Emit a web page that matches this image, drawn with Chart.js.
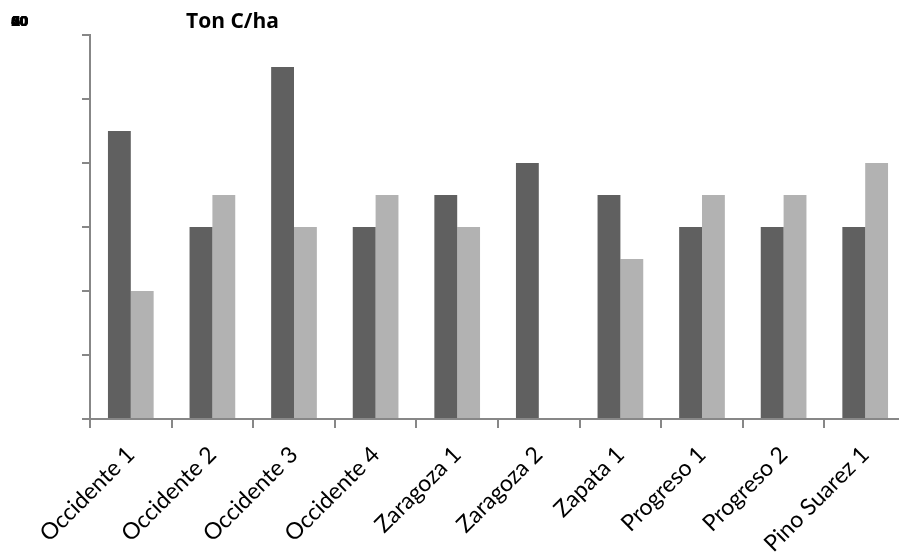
<!DOCTYPE html>
<html>
<head>
<meta charset="utf-8">
<script src="https://cdn.jsdelivr.net/npm/chart.js@4.4.1/dist/chart.umd.min.js"></script>
<style>
  html, body { margin: 0; padding: 0; background: #fff; overflow: hidden; }
  #wrap { position: relative; width: 910px; height: 557px; }
</style>
</head>
<body>
<div id="wrap"><canvas id="c"></canvas></div>
<script>
// Carbon stock per plot (Ton C/ha), two sampling series
const categories = ['Occidente 1', 'Occidente 2', 'Occidente 3', 'Occidente 4', 'Zaragoza 1',
                    'Zaragoza 2', 'Zapata 1', 'Progreso 1', 'Progreso 2', 'Pino Suarez 1'];
const seriesA = [45, 30, 55, 30, 35, 40, 35, 30, 30, 30];
const seriesB = [20, 35, 30, 35, 30, null, 25, 35, 35, 40];
const yTicks = [0, 10, 20, 30, 40, 50, 60];
const titleText = 'Ton C/ha';

const AXIS = '#878787';

// Title placed over the second category, and y tick labels piled up in the corner
const overlay = {
  id: 'overlay',
  afterDraw(chart) {
    const ctx = chart.ctx;
    ctx.save();
    ctx.fillStyle = '#000';
    ctx.textBaseline = 'alphabetic';
    ctx.font = 'bold 21px "Open Sans"';
    ctx.fillText(titleText, 186, 28);
    ctx.font = 'bold 15px "Liberation Sans Narrow", "Liberation Sans"';
    yTicks.forEach((v, i) => ctx.fillText(String(v), 11 + (i % 2), 26));
    ctx.restore();
  }
};

new Chart(document.getElementById('c'), {
  type: 'bar',
  data: {
    labels: categories,
    datasets: [
      { data: seriesA, backgroundColor: '#606060', borderWidth: 0 },
      { data: seriesB, backgroundColor: '#b2b2b2', borderWidth: 0 }
    ]
  },
  options: {
    responsive: true,
    maintainAspectRatio: false,
    animation: false,
    layout: { padding: { top: 35, left: 0, right: 4, bottom: 0 } },
    datasets: { bar: { categoryPercentage: 0.56, barPercentage: 1.0 } },
    plugins: { legend: { display: false }, title: { display: false }, tooltip: { enabled: false } },
    scales: {
      x: {
        grid: { offset: true, drawOnChartArea: false, drawTicks: true, tickLength: 9, color: AXIS, lineWidth: 2 },
        border: { display: true, color: AXIS, width: 2 },
        ticks: {
          color: '#000', font: { family: 'Lato', size: 23 },
          maxRotation: 45, minRotation: 45, autoSkip: false, padding: 13
        },
        afterFit(s) { s.height = 138; }
      },
      y: {
        min: 0, max: 60,
        afterBuildTicks(s) { s.ticks = yTicks.map(v => ({ value: v })); },
        grid: { drawOnChartArea: false, drawTicks: true, tickLength: 8, color: AXIS, lineWidth: 2 },
        border: { display: true, color: AXIS, width: 2 },
        ticks: { display: false },
        afterFit(s) { s.width = 90; }
      }
    }
  },
  plugins: [overlay]
});
</script>
</body>
</html>
